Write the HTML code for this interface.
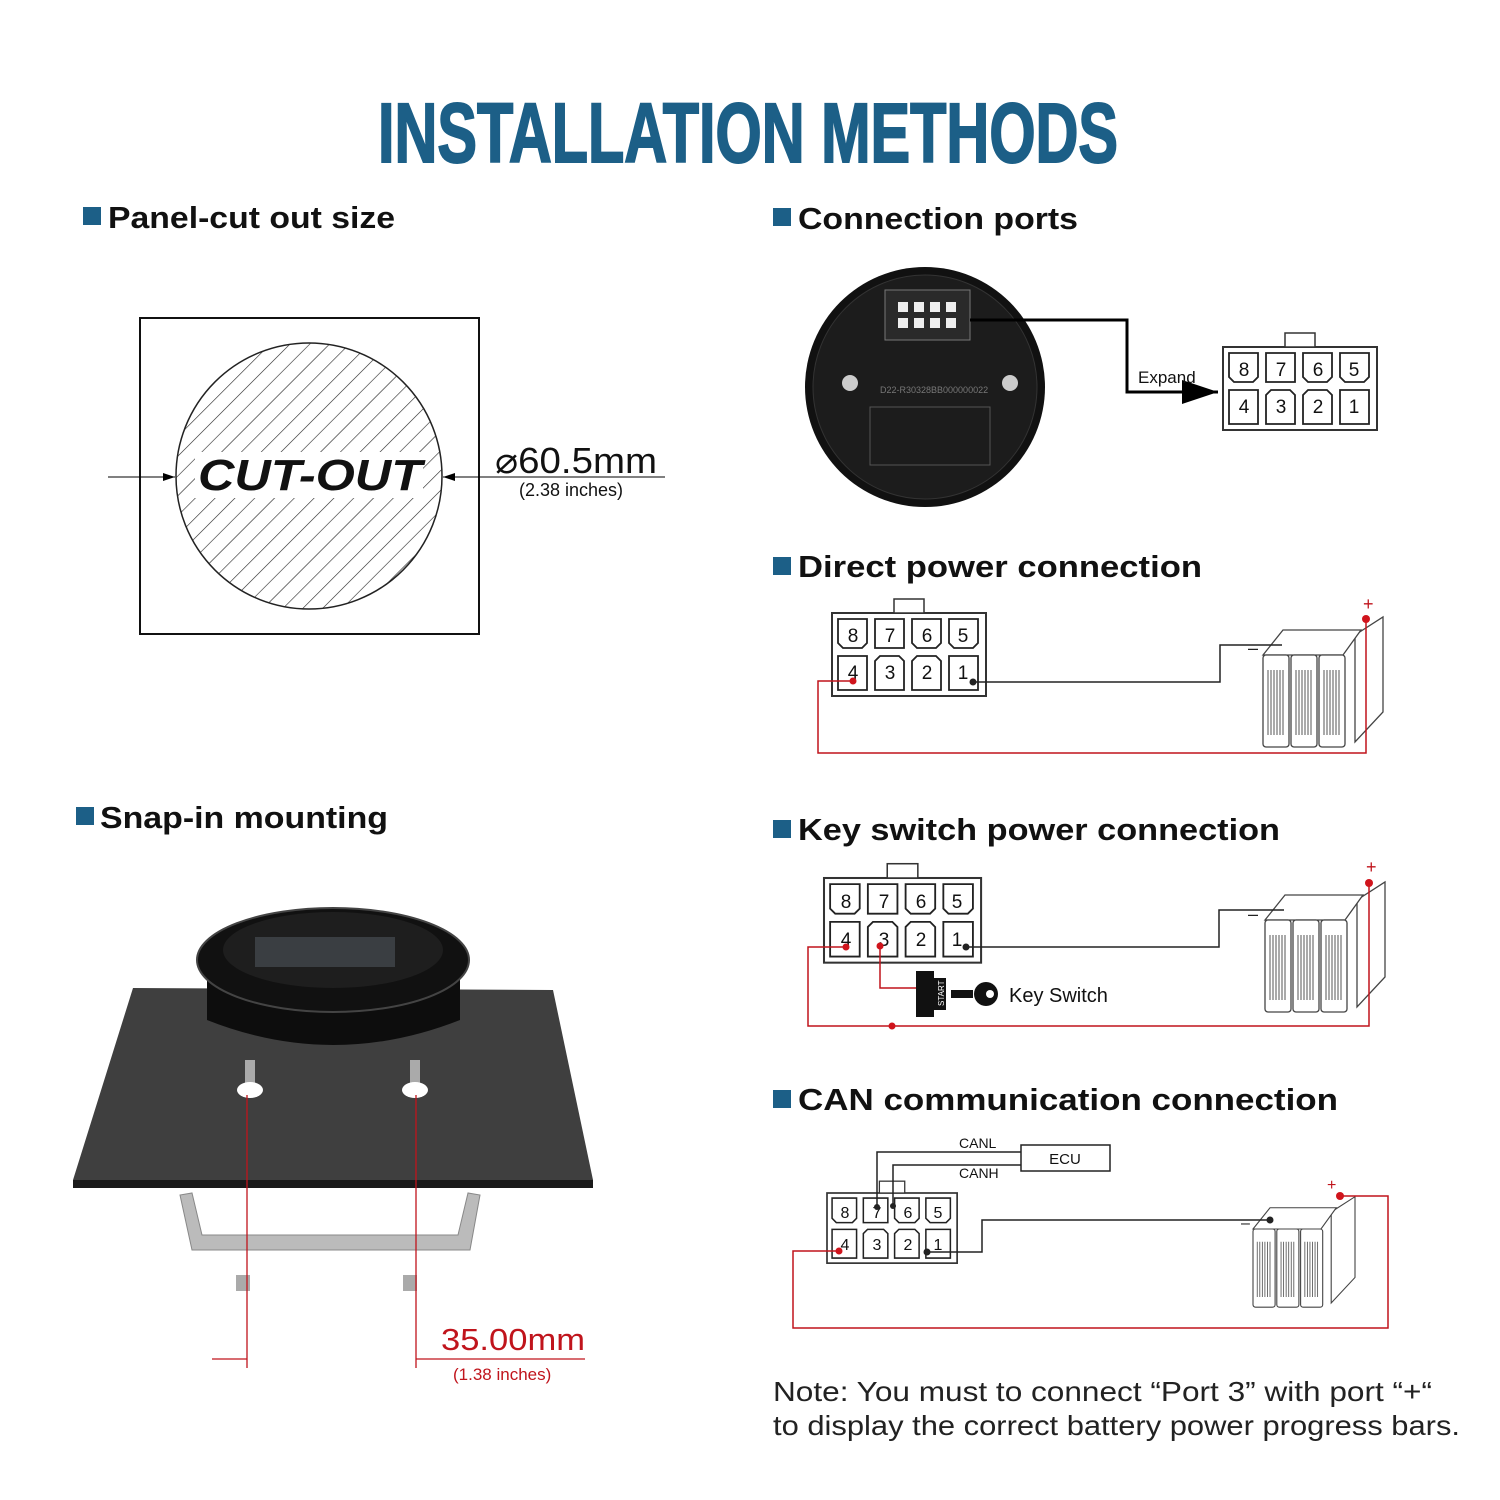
<!DOCTYPE html>
<html><head><meta charset="utf-8"><style>
html,body{margin:0;padding:0;background:#fff}
svg{display:block}
text{font-family:"Liberation Sans",sans-serif}
</style></head><body>
<svg width="1500" height="1500" viewBox="0 0 1500 1500" xmlns="http://www.w3.org/2000/svg">
<defs>
<pattern id="hatch" width="14" height="14" patternUnits="userSpaceOnUse" patternTransform="rotate(45)">
<line x1="0" y1="0" x2="0" y2="14" stroke="#222" stroke-width="1.2"/></pattern>
<marker id="ar" markerWidth="12" markerHeight="8" refX="12" refY="4" orient="auto"><path d="M0,0 L12,4 L0,8z" fill="#000"/></marker>
<g id="conn">
<rect x="0" y="0" width="154" height="83" fill="#fff" stroke="#333" stroke-width="2"/>
<rect x="62" y="-14" width="30" height="14" fill="#fff" stroke="#333" stroke-width="1.5"/>
<g fill="#fff" stroke="#222" stroke-width="1.8">
<path d="M6,6h29v24l-5,5h-19l-5,-5z"/><path d="M43,6h29v29h-29z"/><path d="M80,6h29v24l-5,5h-19l-5,-5z"/><path d="M117,6h29v24l-5,5h-19l-5,-5z"/>
<path d="M6,43h29v34h-29z"/><path d="M43,48l5,-5h19l5,5v29h-29z"/><path d="M80,48l5,-5h19l5,5v29h-29z"/><path d="M117,43h29v34h-29z"/>
</g>
</g>
<g id="bat">
<g fill="#fff" stroke="#444" stroke-width="1.3">
<path d="M92,20 l28,-18 v95 l-28,30z"/>
<path d="M0,40 l20,-25 h78 l-18,25z"/>
<rect x="0" y="40" width="26" height="92" rx="3"/>
<rect x="28" y="40" width="26" height="92" rx="3"/>
<rect x="56" y="40" width="26" height="92" rx="3"/>
</g>
<g stroke="#555" stroke-width="1">
<path d="M5,55v65M8,55v65M11,55v65M14,55v65M17,55v65M20,55v65M33,55v65M36,55v65M39,55v65M42,55v65M45,55v65M48,55v65M61,55v65M64,55v65M67,55v65M70,55v65M73,55v65M76,55v65"/>
</g>
</g>
</defs>

<text x="378" y="162" font-size="84" font-weight="bold" fill="#1c5f87" stroke="#1c5f87" stroke-width="2" textLength="740" lengthAdjust="spacingAndGlyphs" style="font-family:'Liberation Sans Narrow','Liberation Sans',sans-serif">INSTALLATION METHODS</text>

<!-- headings -->
<g font-size="31" font-weight="bold" fill="#111">
<rect x="83" y="207" width="18" height="18" fill="#1c5f87"/><text x="108" y="228" textLength="287" lengthAdjust="spacingAndGlyphs">Panel-cut out size</text>
<rect x="773" y="208" width="18" height="18" fill="#1c5f87"/><text x="798" y="229" textLength="280" lengthAdjust="spacingAndGlyphs">Connection ports</text>
<rect x="773" y="557" width="18" height="18" fill="#1c5f87"/><text x="798" y="577" textLength="404" lengthAdjust="spacingAndGlyphs">Direct power connection</text>
<rect x="76" y="807" width="18" height="18" fill="#1c5f87"/><text x="100" y="828" textLength="288" lengthAdjust="spacingAndGlyphs">Snap-in mounting</text>
<rect x="773" y="820" width="18" height="18" fill="#1c5f87"/><text x="798" y="840" textLength="482" lengthAdjust="spacingAndGlyphs">Key switch power connection</text>
<rect x="773" y="1090" width="18" height="18" fill="#1c5f87"/><text x="798" y="1110" textLength="540" lengthAdjust="spacingAndGlyphs">CAN communication connection</text>
</g>

<!-- cut out -->
<rect x="140" y="318" width="339" height="316" fill="#fff" stroke="#111" stroke-width="2"/>
<circle cx="309" cy="476" r="133" fill="url(#hatch)" stroke="#222" stroke-width="1.5"/>
<rect x="195" y="452" width="228" height="46" fill="#fff"/>
<text x="198" y="490" font-size="44" font-weight="bold" font-style="italic" fill="#111" textLength="224" lengthAdjust="spacingAndGlyphs">CUT-OUT</text>
<line x1="108" y1="477" x2="175" y2="477" stroke="#000" marker-end="url(#ar)"/>
<line x1="665" y1="477" x2="443" y2="477" stroke="#000" marker-end="url(#ar)"/>
<text x="495" y="473" font-size="36" fill="#111" textLength="162" lengthAdjust="spacingAndGlyphs">⌀60.5mm</text>
<text x="519" y="496" font-size="18" fill="#111">(2.38 inches)</text>

<!-- connection ports -->
<circle cx="925" cy="387" r="120" fill="#111"/>
<circle cx="925" cy="387" r="112" fill="#1c1c1c" stroke="#333"/>
<rect x="885" y="290" width="85" height="50" fill="#2a2a2a" stroke="#777"/>
<g fill="#eee"><rect x="898" y="302" width="10" height="10"/><rect x="914" y="302" width="10" height="10"/><rect x="930" y="302" width="10" height="10"/><rect x="946" y="302" width="10" height="10"/><rect x="898" y="318" width="10" height="10"/><rect x="914" y="318" width="10" height="10"/><rect x="930" y="318" width="10" height="10"/><rect x="946" y="318" width="10" height="10"/></g>
<circle cx="850" cy="383" r="8" fill="#ccc"/><circle cx="1010" cy="383" r="8" fill="#ccc"/>
<text x="880" y="393" font-size="9" fill="#777">D22-R30328BB000000022</text>
<rect x="870" y="407" width="120" height="58" fill="none" stroke="#555"/>
<polyline points="970,320 1127,320 1127,392 1218,392" fill="none" stroke="#000" stroke-width="3" marker-end="url(#ar)"/>
<text x="1138" y="383" font-size="17" fill="#111">Expand</text>
<use href="#conn" x="1223" y="347"/>
<g font-size="19" fill="#111" text-anchor="middle"><text x="1244" y="376">8</text><text x="1281" y="376">7</text><text x="1318" y="376">6</text><text x="1354" y="376">5</text><text x="1244" y="413">4</text><text x="1281" y="413">3</text><text x="1318" y="413">2</text><text x="1354" y="413">1</text></g>

<!-- direct power -->
<use href="#conn" x="832" y="613"/>
<g font-size="19" fill="#111" text-anchor="middle"><text x="853" y="642">8</text><text x="890" y="642">7</text><text x="927" y="642">6</text><text x="963" y="642">5</text><text x="853" y="679">4</text><text x="890" y="679">3</text><text x="927" y="679">2</text><text x="963" y="679">1</text></g>
<use href="#bat" x="1263" y="615"/>
<polyline points="973,682 1220,682 1220,645 1282,645" fill="none" stroke="#222" stroke-width="1.5"/>
<polyline points="853,681 818,681 818,753 1366,753 1366,619" fill="none" stroke="#c0141c" stroke-width="1.5"/>
<circle cx="853" cy="681" r="3.5" fill="#d0141c"/><circle cx="973" cy="682" r="3.5" fill="#222"/><circle cx="1366" cy="619" r="4" fill="#d0141c"/>
<text x="1363" y="610" font-size="18" fill="#c0141c">+</text><text x="1248" y="654" font-size="18" fill="#222">–</text>

<!-- key switch -->
<use href="#conn" x="824" y="878" transform="translate(824 878) scale(1.02) translate(-824 -878)"/>
<g font-size="19" fill="#111" text-anchor="middle"><text x="846" y="908">8</text><text x="884" y="908">7</text><text x="921" y="908">6</text><text x="957" y="908">5</text><text x="846" y="946">4</text><text x="884" y="946">3</text><text x="921" y="946">2</text><text x="957" y="946">1</text></g>
<use href="#bat" x="1265" y="880"/>
<polyline points="966,947 1219,947 1219,910 1284,910" fill="none" stroke="#222" stroke-width="1.5"/>
<polyline points="846,947 808,947 808,1026 1369,1026 1369,883" fill="none" stroke="#c0141c" stroke-width="1.5"/>
<polyline points="880,946 880,988 916,988 M880,1026 892,1026 892,1005 916,1005" fill="none" stroke="#c0141c" stroke-width="1.5"/>
<circle cx="846" cy="947" r="3.5" fill="#d0141c"/><circle cx="880" cy="946" r="3.5" fill="#d0141c"/><circle cx="892" cy="1026" r="3.5" fill="#d0141c"/><circle cx="966" cy="947" r="3.5" fill="#222"/><circle cx="1369" cy="883" r="4" fill="#d0141c"/>
<rect x="916" y="971" width="18" height="46" fill="#111"/><rect x="934" y="978" width="12" height="32" fill="#111"/>
<text x="944" y="1006" font-size="8" fill="#fff" transform="rotate(-90 944 1006)">START</text>
<rect x="951" y="990" width="22" height="8" fill="#111"/><circle cx="986" cy="994" r="12" fill="#111"/><circle cx="990" cy="994" r="4" fill="#fff"/>
<text x="1009" y="1002" font-size="20" fill="#111">Key Switch</text>
<text x="1366" y="873" font-size="18" fill="#c0141c">+</text><text x="1248" y="920" font-size="18" fill="#222">–</text>

<!-- CAN -->
<g transform="translate(827 1193) scale(0.845)"><use href="#conn"/></g>
<g font-size="16" fill="#111" text-anchor="middle"><text x="845" y="1218">8</text><text x="877" y="1218">7</text><text x="908" y="1218">6</text><text x="938" y="1218">5</text><text x="845" y="1250">4</text><text x="877" y="1250">3</text><text x="908" y="1250">2</text><text x="938" y="1250">1</text></g>
<rect x="1021" y="1145" width="89" height="26" fill="#fff" stroke="#222" stroke-width="1.5"/>
<text x="1065" y="1164" font-size="15" text-anchor="middle" fill="#111">ECU</text>
<text x="959" y="1148" font-size="14" fill="#111">CANL</text><text x="959" y="1178" font-size="14" fill="#111">CANH</text>
<polyline points="877,1207 877,1152 1021,1152" fill="none" stroke="#222" stroke-width="1.5"/>
<polyline points="893,1206 893,1165 1021,1165" fill="none" stroke="#222" stroke-width="1.5"/>
<circle cx="877" cy="1207" r="3" fill="#222"/><circle cx="893" cy="1206" r="3" fill="#222"/>
<g transform="translate(1253 1195) scale(0.85)"><use href="#bat"/></g>
<polyline points="927,1252 982,1252 982,1220 1270,1220" fill="none" stroke="#222" stroke-width="1.5"/>
<polyline points="839,1251 793,1251 793,1328 1388,1328 1388,1196 1340,1196" fill="none" stroke="#c0141c" stroke-width="1.5"/>
<circle cx="839" cy="1251" r="3.5" fill="#d0141c"/><circle cx="927" cy="1252" r="3.5" fill="#222"/><circle cx="1270" cy="1220" r="3.5" fill="#222"/><circle cx="1340" cy="1196" r="4" fill="#d0141c"/>
<text x="1327" y="1190" font-size="16" fill="#c0141c">+</text><text x="1241" y="1228" font-size="16" fill="#222">–</text>

<!-- snap-in -->
<polygon points="133,988 553,990 593,1180 73,1180" fill="#3f3f3f"/>
<rect x="73" y="1180" width="520" height="8" fill="#1a1a1a"/>
<path d="M207,960 V1020 Q333,1070 460,1020 V960z" fill="#0d0d0d"/>
<ellipse cx="333" cy="960" rx="136" ry="52" fill="#111" stroke="#444" stroke-width="2"/>
<ellipse cx="333" cy="950" rx="110" ry="38" fill="#1e1e1e"/>
<rect x="255" y="937" width="140" height="30" fill="#3a3e42"/>
<rect x="245" y="1060" width="10" height="30" fill="#aaa"/><rect x="410" y="1060" width="10" height="30" fill="#aaa"/>
<ellipse cx="250" cy="1090" rx="13" ry="8" fill="#fff"/><ellipse cx="415" cy="1090" rx="13" ry="8" fill="#fff"/>
<path d="M180,1195 L192,1250 H470 L480,1195 L468,1193 L458,1235 H202 L192,1193z" fill="#bbb" stroke="#888"/>
<rect x="236" y="1275" width="14" height="16" fill="#aaa"/><rect x="403" y="1275" width="14" height="16" fill="#aaa"/>
<g stroke="#c0141c" stroke-width="1.3"><line x1="247" y1="1095" x2="247" y2="1368"/><line x1="416" y1="1095" x2="416" y2="1368"/><line x1="212" y1="1359" x2="247" y2="1359"/><line x1="416" y1="1359" x2="585" y2="1359"/></g>
<text x="441" y="1350" font-size="31" fill="#c0141c" textLength="144" lengthAdjust="spacingAndGlyphs">35.00mm</text>
<text x="453" y="1380" font-size="17" fill="#c0141c">(1.38 inches)</text>

<text x="773" y="1401" font-size="28" fill="#222" textLength="659" lengthAdjust="spacingAndGlyphs">Note: You must to connect “Port 3” with port “+“</text>
<text x="773" y="1435" font-size="28" fill="#222" textLength="687" lengthAdjust="spacingAndGlyphs">to display the correct battery power progress bars.</text>
</svg>
</body></html>
